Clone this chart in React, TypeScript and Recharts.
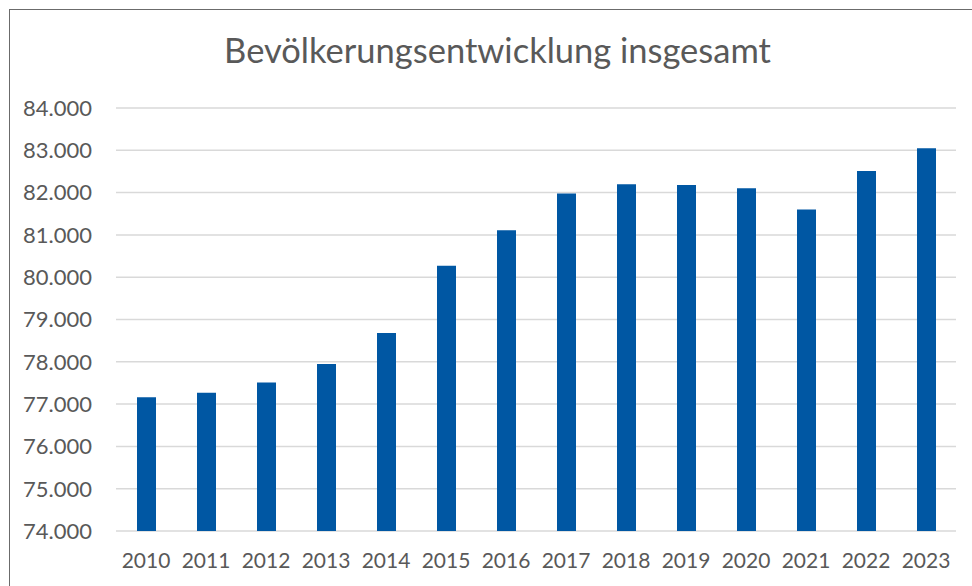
import { BarChart, Bar, XAxis, YAxis, CartesianGrid } from "recharts";

const years = [
  "2010", "2011", "2012", "2013", "2014", "2015", "2016",
  "2017", "2018", "2019", "2020", "2021", "2022", "2023",
];
// Bevölkerung in Tausend
const population = [
  77160, 77270, 77510, 77950, 78680, 80270, 81110,
  81980, 82200, 82180, 82100, 81600, 82510, 83050,
];
const yTicks = [74000, 75000, 76000, 77000, 78000, 79000, 80000, 81000, 82000, 83000, 84000];

const data = years.map((year, i) => ({ year, value: population[i] }));

// deutsches Tausendertrennzeichen
const fmt = (v: number) => {
  const s = String(Math.round(v));
  return s.replace(/\B(?=(\d{3})+(?!\d))/g, ".");
};

const FONT = "Lato, 'Open Sans', sans-serif";
const GREY = "#595959";

export default function App() {
  return (
    <div
      style={{
        position: "absolute",
        left: 0,
        top: 0,
        width: 972,
        height: 586,
        overflow: "hidden",
        background: "#fff",
        fontFamily: FONT,
      }}
    >
      {/* Rahmen des Diagrammbereichs */}
      <div
        style={{
          position: "absolute",
          left: 9,
          top: 9,
          width: 990,
          height: 600,
          border: "1px solid #6b6b6b",
          boxSizing: "border-box",
        }}
      />
      <div
        style={{
          position: "absolute",
          left: 0,
          width: 995,
          top: 30,
          textAlign: "center",
          fontSize: 34.5,
          color: GREY,
          lineHeight: "40px",
        }}
      >
        Bevölkerungsentwicklung insgesamt
      </div>
      <div style={{ position: "absolute", left: 0, top: 0 }}>
        <BarChart
          width={972}
          height={586}
          data={data}
          margin={{ top: 108, right: 16, bottom: 15, left: 16 }}
          barCategoryGap={0}
        >
          <CartesianGrid vertical={false} stroke="#d9d9d9" strokeWidth={1.5} />
          <XAxis
            dataKey="year"
            height={40}
            axisLine={false}
            tickLine={false}
            tickSize={0}
            tickMargin={22}
            tick={{ fontSize: 21, fill: GREY, fontFamily: FONT }}
            interval={0}
          />
          <YAxis
            width={100}
            domain={[74000, 84000]}
            ticks={yTicks}
            allowDataOverflow
            axisLine={false}
            tickLine={false}
            tickSize={0}
            tickMargin={24}
            tickFormatter={fmt}
            tick={{ fontSize: 22, fill: GREY, fontFamily: FONT }}
          />
          <Bar dataKey="value" fill="#0057A3" barSize={19} isAnimationActive={false} />
        </BarChart>
      </div>
    </div>
  );
}
